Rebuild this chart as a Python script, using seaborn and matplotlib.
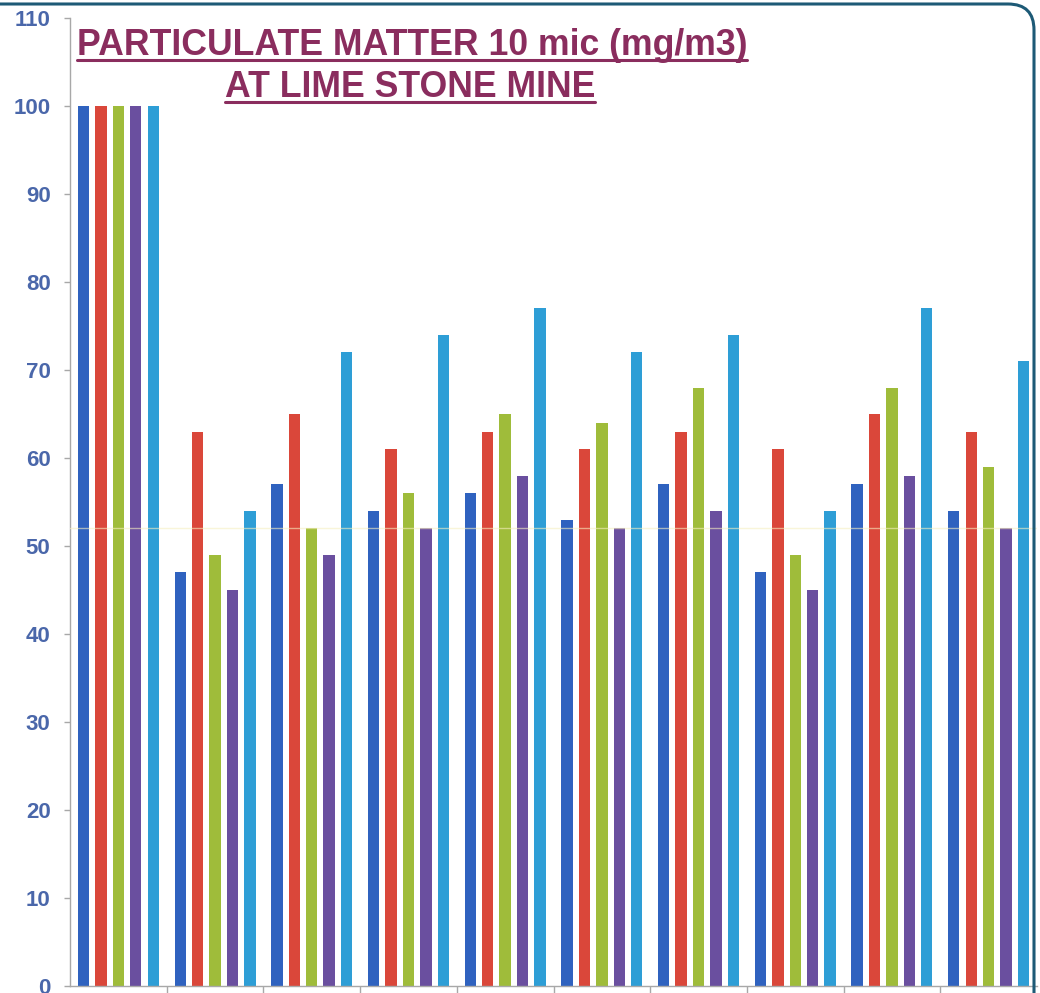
import matplotlib
matplotlib.use("Agg")
import matplotlib.pyplot as plt
import numpy as np
import pandas as pd
import seaborn as sns
from matplotlib.lines import Line2D
from matplotlib.patches import FancyBboxPatch
from matplotlib.transforms import IdentityTransform

# sampling locations (no labels shown on the chart) and the five series
locations = [str(i) for i in range(1, 11)]
series_names = ["Series 1", "Series 2", "Series 3", "Series 4", "Series 5"]

series_1 = [100, 47, 57, 54, 56, 53, 57, 47, 57, 54]
series_2 = [100, 63, 65, 61, 63, 61, 63, 61, 65, 63]
series_3 = [100, 49, 52, 56, 65, 64, 68, 49, 68, 59]
series_4 = [100, 45, 49, 52, 58, 52, 54, 45, 58, 52]
series_5 = [100, 54, 72, 74, 77, 72, 74, 54, 77, 71]

ref_level = 52
y_ticks = list(range(0, 111, 10))

colors = ["#2F62BF", "#DA473A", "#9FBC3A", "#6A4F9F", "#2E9ED6"]
title_color = "#8A2D5E"
tick_color = "#4A67AA"
axis_gray = "#A8A8A8"

wide = pd.DataFrame({"location": locations,
                     series_names[0]: series_1,
                     series_names[1]: series_2,
                     series_names[2]: series_3,
                     series_names[3]: series_4,
                     series_names[4]: series_5})
df = wide.melt(id_vars="location", var_name="series", value_name="pm10")

sns.set_theme(style="white")
plt.rcParams["font.family"] = ["Liberation Sans", "DejaVu Sans"]

W, H = 1040, 993
fig = plt.figure(figsize=(W / 100, H / 100), dpi=100)
ax = fig.add_axes([70 / W, 7 / H, 967 / W, 968 / H])

sns.barplot(data=df, x="location", y="pm10", hue="series", palette=colors,
            width=0.9, gap=0.35, saturation=1, errorbar=None, legend=False,
            linewidth=0, ax=ax)

# faint reference line crossing the bars
ax.axhline(ref_level, color="#F6EFC0", lw=1.0, alpha=0.6, zorder=5)

ax.set_xlim(-0.5, 9.5)
ax.set_ylim(0, 110)
ax.set_xlabel("")
ax.set_ylabel("")
ax.set_xticks(np.arange(0.5, 9.5, 1.0))
ax.set_xticklabels([])
ax.set_yticks(y_ticks)
ax.set_yticklabels([str(v) for v in y_ticks], fontsize=16, fontweight="bold",
                   color=tick_color)
ax.tick_params(axis="x", bottom=True, length=6, width=1, color=axis_gray)
ax.tick_params(axis="y", left=True, length=4, width=1, color=axis_gray, pad=10)
for side in ["top", "right"]:
    ax.spines[side].set_visible(False)
for side in ["left", "bottom"]:
    ax.spines[side].set_color(axis_gray)
    ax.spines[side].set_linewidth(1)

# title lines, underlined
t1 = fig.text(412 / W, (H - 55) / H, "PARTICULATE MATTER 10 mic (mg/m3)",
              ha="center", va="baseline", fontsize=25.7, fontweight="bold",
              color=title_color)
t2 = fig.text(410 / W, (H - 97) / H, "AT LIME STONE MINE",
              ha="center", va="baseline", fontsize=25.7, fontweight="bold",
              color=title_color)

renderer = fig.canvas.get_renderer()
for t, base in [(t1, 55), (t2, 97)]:
    bb = t.get_window_extent(renderer)
    y_ul = H - base - 5
    fig.add_artist(Line2D([bb.x0, bb.x1], [y_ul, y_ul], color=title_color,
                          lw=2.2, transform=IdentityTransform()))

# chart-area frame (rounded top-right corner)
frame = FancyBboxPatch((-30, -30), 1034 + 30, H - 4 + 30,
                       boxstyle="round,pad=0,rounding_size=26",
                       transform=IdentityTransform(), fill=False,
                       edgecolor="#1D5A76", lw=2.2)
fig.add_artist(frame)

fig.savefig("out.png", dpi=100)
